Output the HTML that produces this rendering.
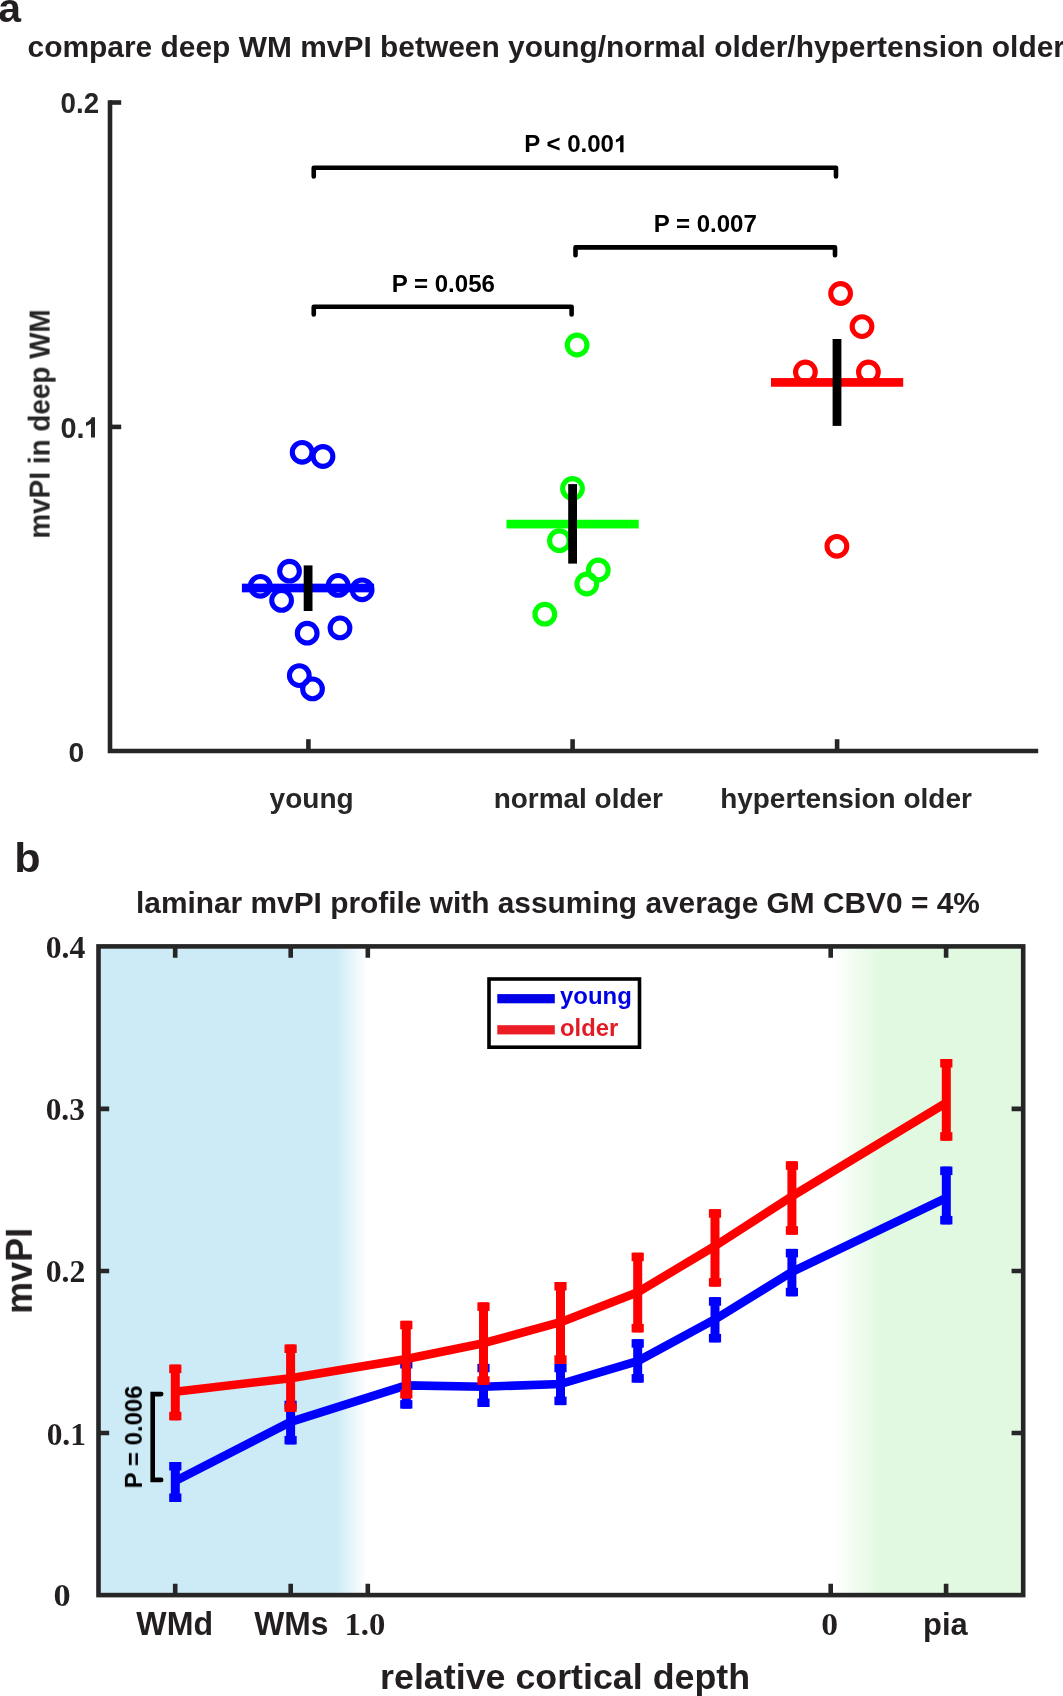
<!DOCTYPE html>
<html><head><meta charset="utf-8"><title>mvPI figure</title>
<style>html,body{margin:0;padding:0;background:#fff;width:1063px;height:1696px;overflow:hidden}svg{display:block}</style>
</head><body>
<svg width="1063" height="1696" viewBox="0 0 1063 1696">
<rect width="1063" height="1696" fill="#fff"/>
<g stroke="#262626" stroke-width="4.6" fill="none" stroke-linecap="butt">
<path d="M110,100.2 V753.2 M107.7,751 H1038.2"/>
<path d="M110,102.5 H121.2"/>
<path d="M110,426.9 H121.2"/>
<path d="M308.4,739.2 V751"/>
<path d="M572.6,739.2 V751"/>
<path d="M837.1,739.2 V751"/>
</g>
<g fill="none" stroke="#0000ff" stroke-width="5.1">
<circle cx="302.15" cy="452.3" r="9.85"/>
<circle cx="323.0" cy="456.5" r="9.85"/>
<circle cx="289.5" cy="571.2" r="9.85"/>
<circle cx="260.3" cy="586.3" r="9.85"/>
<circle cx="281.6" cy="600.4" r="9.85"/>
<circle cx="338.2" cy="585.4" r="9.85"/>
<circle cx="362.1" cy="589.8" r="9.85"/>
<circle cx="307.2" cy="633.2" r="9.85"/>
<circle cx="340" cy="627.9" r="9.85"/>
<circle cx="299.3" cy="675.6" r="9.85"/>
<circle cx="312.5" cy="688.9" r="9.85"/>
</g>
<g fill="none" stroke="#00ff00" stroke-width="5.1">
<circle cx="577.1" cy="345.0" r="9.85"/>
<circle cx="572.5" cy="488.5" r="9.85"/>
<circle cx="559.4" cy="540.7" r="9.85"/>
<circle cx="598.3" cy="570.0" r="9.85"/>
<circle cx="586.8" cy="584.0" r="9.85"/>
<circle cx="544.8" cy="614.2" r="9.85"/>
</g>
<g fill="none" stroke="#ff0000" stroke-width="5.1">
<circle cx="840.6" cy="293.5" r="9.85"/>
<circle cx="862.0" cy="326.6" r="9.85"/>
<circle cx="805.4" cy="372.0" r="9.85"/>
<circle cx="868.4" cy="372.0" r="9.85"/>
<circle cx="836.9" cy="546.3" r="9.85"/>
</g>
<rect x="241.9" y="583.65" width="132.2" height="8.7" fill="#0000ff"/>
<rect x="506.5" y="519.75" width="132.2" height="8.7" fill="#00ff00"/>
<rect x="771.0" y="378.05" width="132.2" height="8.7" fill="#ff0000"/>
<rect x="303.7" y="565.4" width="8.8" height="45.6" fill="#000"/>
<rect x="568.2" y="484.1" width="8.8" height="79.5" fill="#000"/>
<rect x="832.6" y="339.0" width="8.8" height="86.9" fill="#000"/>
<g stroke="#000" stroke-width="4.6" fill="none" stroke-linejoin="round" stroke-linecap="round">
<path d="M313.75,176.4 V167.7 H836 V176.4"/>
<path d="M575.5,255.3 V247.4 H835 V255.3"/>
<path d="M313.75,314.4 V306.8 H571.6 V314.4"/>
</g>
<path d="M95.0,417.3 L95.0,437.6 L91.0,437.6 L91.0,423.7 Q88.6,425.2 86.0,425.9 L86.0,422.5 Q88.6,421.6 90.3,419.6 Q91.2,418.5 91.6,417.3 Z" fill="#262626"/>
<path d="M623.50,135.20 L623.50,152.30 L620.13,152.30 L620.13,140.59 Q618.13,141.86 615.91,142.47 L615.91,139.59 Q618.13,138.84 619.52,137.15 Q620.30,136.22 620.62,135.20 Z" fill="#000"/>
<defs><linearGradient id="gb" gradientUnits="userSpaceOnUse" x1="98.5" x2="367" y1="0" y2="0"><stop offset="0" stop-color="#cdebf6"/><stop offset="0.8860" stop-color="#cdebf6"/><stop offset="1" stop-color="#ffffff"/></linearGradient><linearGradient id="gg" gradientUnits="userSpaceOnUse" x1="832" x2="1023.2" y1="0" y2="0"><stop offset="0" stop-color="#ffffff"/><stop offset="0.2667" stop-color="#e0f9e0"/><stop offset="1" stop-color="#e0f9e0"/></linearGradient></defs>
<rect x="98.5" y="946.4" width="268.5" height="648.7" fill="url(#gb)"/>
<rect x="832" y="946.4" width="191.2" height="648.7" fill="url(#gg)"/>
<g fill="#0000ff">
<rect x="170.8" y="1462.0" width="9" height="40.0"/>
<rect x="169.2" y="1462.0" width="12.2" height="8.5"/>
<rect x="169.2" y="1493.5" width="12.2" height="8.5"/>
<rect x="286.1" y="1400.7" width="9" height="43.7"/>
<rect x="284.5" y="1400.7" width="12.2" height="8.5"/>
<rect x="284.5" y="1435.9" width="12.2" height="8.5"/>
<rect x="401.8" y="1360.0" width="9" height="48.6"/>
<rect x="400.2" y="1360.0" width="12.2" height="8.5"/>
<rect x="400.2" y="1400.1" width="12.2" height="8.5"/>
<rect x="479.0" y="1363.8" width="9" height="43.2"/>
<rect x="477.4" y="1363.8" width="12.2" height="8.5"/>
<rect x="477.4" y="1398.5" width="12.2" height="8.5"/>
<rect x="556.0" y="1363.8" width="9" height="41.3"/>
<rect x="554.4" y="1363.8" width="12.2" height="8.5"/>
<rect x="554.4" y="1396.6" width="12.2" height="8.5"/>
<rect x="633.2" y="1339.2" width="9" height="43.4"/>
<rect x="631.6" y="1339.2" width="12.2" height="8.5"/>
<rect x="631.6" y="1374.1" width="12.2" height="8.5"/>
<rect x="710.5" y="1297.2" width="9" height="45.2"/>
<rect x="708.9" y="1297.2" width="12.2" height="8.5"/>
<rect x="708.9" y="1333.9" width="12.2" height="8.5"/>
<rect x="787.4" y="1248.9" width="9" height="47.4"/>
<rect x="785.8" y="1248.9" width="12.2" height="8.5"/>
<rect x="785.8" y="1287.8" width="12.2" height="8.5"/>
<rect x="941.8" y="1166.6" width="9" height="57.8"/>
<rect x="940.2" y="1166.6" width="12.2" height="8.5"/>
<rect x="940.2" y="1215.9" width="12.2" height="8.5"/>
</g>
<polyline points="175.3,1481.0 290.6,1421.8 406.3,1385.4 483.5,1386.7 560.5,1384.0 637.7,1361.1 715.0,1319.3 791.9,1271.9 946.3,1197.9" fill="none" stroke="#0000ff" stroke-width="8.6" stroke-linejoin="round" stroke-linecap="butt"/>
<g fill="#ff0000">
<rect x="170.8" y="1364.6" width="9" height="55.7"/>
<rect x="169.2" y="1364.6" width="12.2" height="8.5"/>
<rect x="169.2" y="1411.8" width="12.2" height="8.5"/>
<rect x="286.1" y="1344.5" width="9" height="67.4"/>
<rect x="284.5" y="1344.5" width="12.2" height="8.5"/>
<rect x="284.5" y="1403.4" width="12.2" height="8.5"/>
<rect x="401.8" y="1320.8" width="9" height="77.7"/>
<rect x="400.2" y="1320.8" width="12.2" height="8.5"/>
<rect x="400.2" y="1390.0" width="12.2" height="8.5"/>
<rect x="479.0" y="1302.4" width="9" height="82.4"/>
<rect x="477.4" y="1302.4" width="12.2" height="8.5"/>
<rect x="477.4" y="1376.3" width="12.2" height="8.5"/>
<rect x="556.0" y="1282.0" width="9" height="81.8"/>
<rect x="554.4" y="1282.0" width="12.2" height="8.5"/>
<rect x="554.4" y="1355.3" width="12.2" height="8.5"/>
<rect x="633.2" y="1252.7" width="9" height="79.7"/>
<rect x="631.6" y="1252.7" width="12.2" height="8.5"/>
<rect x="631.6" y="1323.9" width="12.2" height="8.5"/>
<rect x="710.5" y="1209.2" width="9" height="77.4"/>
<rect x="708.9" y="1209.2" width="12.2" height="8.5"/>
<rect x="708.9" y="1278.1" width="12.2" height="8.5"/>
<rect x="787.4" y="1161.3" width="9" height="73.4"/>
<rect x="785.8" y="1161.3" width="12.2" height="8.5"/>
<rect x="785.8" y="1226.2" width="12.2" height="8.5"/>
<rect x="941.8" y="1059.0" width="9" height="81.7"/>
<rect x="940.2" y="1059.0" width="12.2" height="8.5"/>
<rect x="940.2" y="1132.2" width="12.2" height="8.5"/>
</g>
<polyline points="175.3,1391.7 290.6,1378.2 406.3,1359.0 483.5,1343.2 560.5,1322.2 637.7,1292.2 715.0,1246.0 791.9,1196.3 946.3,1102.7" fill="none" stroke="#ff0000" stroke-width="8.6" stroke-linejoin="round" stroke-linecap="butt"/>
<path d="M161.2,1394.1 H152.7 V1479.9 H161.2" fill="none" stroke="#000" stroke-width="4.6" stroke-linecap="round"/>
<g stroke="#262626" stroke-width="4.6" fill="none">
<rect x="98.5" y="946.4" width="924.7" height="648.7"/>
<path d="M98.5,1108.9 H109.2 M1023.2,1108.9 H1011.6"/>
<path d="M98.5,1271.0 H109.2 M1023.2,1271.0 H1011.6"/>
<path d="M98.5,1433.0 H109.2 M1023.2,1433.0 H1011.6"/>
<path d="M175.2,1595.1 V1583.8 M175.2,946.4 V957.8"/>
<path d="M290.7,1595.1 V1583.8 M290.7,946.4 V957.8"/>
<path d="M367.8,1595.1 V1583.8 M367.8,946.4 V957.8"/>
<path d="M830.7,1595.1 V1583.8 M830.7,946.4 V957.8"/>
<path d="M946.1,1595.1 V1583.8 M946.1,946.4 V957.8"/>
</g>
<rect x="489" y="979" width="150.5" height="68.2" fill="#fff" stroke="#000" stroke-width="3.6"/>
<rect x="497.3" y="994.1" width="57.5" height="9.2" fill="#0000e6"/>
<rect x="497.3" y="1025.2" width="57.5" height="9.2" fill="#ec1c24"/>
<g style="will-change:transform">
<text transform="translate(-1.70,21.80) scale(1.0000,1)" font-family="Liberation Sans" font-weight="bold" font-size="40.90" fill="#231f20">a</text>
<text transform="translate(27.50,57.00) scale(1.0000,1)" font-family="Liberation Sans" font-weight="bold" font-size="29.93" fill="#231f20">compare deep WM mvPI between young/normal older/hypertension older</text>
<text transform="translate(60.59,113.40) scale(0.9650,1)" font-family="Liberation Sans" font-weight="bold" font-size="28.71" fill="#262626">0.2</text>
<text transform="translate(60.45,437.50) scale(1.0000,1)" font-family="Liberation Sans" font-weight="bold" font-size="28.86" fill="#262626">0.</text>
<text transform="translate(68.57,761.90) scale(1.0024,1)" font-family="Liberation Sans" font-weight="bold" font-size="28.14" fill="#262626">0</text>
<text transform="translate(269.62,808.40) scale(1.0291,1)" font-family="Liberation Sans" font-weight="bold" font-size="27.22" fill="#262626">young</text>
<text transform="translate(493.68,808.40) scale(1.0292,1)" font-family="Liberation Sans" font-weight="bold" font-size="27.17" fill="#262626">normal older</text>
<text transform="translate(720.14,808.40) scale(1.0295,1)" font-family="Liberation Sans" font-weight="bold" font-size="27.17" fill="#262626">hypertension older</text>
<text transform="translate(49.60,538.61) rotate(-90) scale(0.9673,1)" font-family="Liberation Sans" font-weight="bold" font-size="28.83" fill="#262626">mvPI in deep WM</text>
<text transform="translate(524.14,152.30) scale(0.9856,1)" font-family="Liberation Sans" font-weight="bold" font-size="24.40" fill="#000">P &lt; 0.00</text>
<text transform="translate(653.64,231.70) scale(0.9864,1)" font-family="Liberation Sans" font-weight="bold" font-size="24.40" fill="#000">P = 0.007</text>
<text transform="translate(391.63,291.70) scale(0.9869,1)" font-family="Liberation Sans" font-weight="bold" font-size="24.40" fill="#000">P = 0.056</text>
<text transform="translate(14.34,872.10) scale(1.0564,1)" font-family="Liberation Sans" font-weight="bold" font-size="40.90" fill="#231f20">b</text>
<text transform="translate(136.01,913.10) scale(1.0117,1)" font-family="Liberation Sans" font-weight="bold" font-size="29.52" fill="#231f20">laminar mvPI profile with assuming average GM CBV0 = 4%</text>
<text transform="translate(45.73,957.60) scale(0.9891,1)" font-family="Liberation Serif" font-weight="bold" font-size="32.03" fill="#231f20">0.4</text>
<text transform="translate(45.64,1120.00) scale(0.9851,1)" font-family="Liberation Serif" font-weight="bold" font-size="31.88" fill="#231f20">0.3</text>
<text transform="translate(45.73,1282.10) scale(0.9962,1)" font-family="Liberation Serif" font-weight="bold" font-size="31.88" fill="#231f20">0.2</text>
<text transform="translate(46.64,1444.60) scale(0.9778,1)" font-family="Liberation Serif" font-weight="bold" font-size="32.18" fill="#231f20">0.1</text>
<text transform="translate(53.43,1606.00) scale(1.1122,1)" font-family="Liberation Serif" font-weight="bold" font-size="30.83" fill="#231f20">0</text>
<text transform="translate(136.35,1634.80) scale(0.9812,1)" font-family="Liberation Sans" font-weight="bold" font-size="32.75" fill="#231f20">WMd</text>
<text transform="translate(254.20,1634.80) scale(0.9714,1)" font-family="Liberation Sans" font-weight="bold" font-size="32.75" fill="#231f20">WMs</text>
<text transform="translate(344.38,1634.80) scale(1.0128,1)" font-family="Liberation Serif" font-weight="bold" font-size="32.33" fill="#231f20">1.0</text>
<text transform="translate(821.36,1634.80) scale(1.0384,1)" font-family="Liberation Serif" font-weight="bold" font-size="32.33" fill="#231f20">0</text>
<text transform="translate(923.09,1634.70) scale(0.9687,1)" font-family="Liberation Sans" font-weight="bold" font-size="31.90" fill="#231f20">pia</text>
<text transform="translate(380.07,1688.80) scale(1.0224,1)" font-family="Liberation Sans" font-weight="bold" font-size="35.03" fill="#231f20">relative cortical depth</text>
<text transform="translate(31.80,1313.84) rotate(-90) scale(0.9811,1)" font-family="Liberation Sans" font-weight="bold" font-size="36.67" fill="#231f20">mvPI</text>
<text transform="translate(560.06,1004.10) scale(1.0143,1)" font-family="Liberation Sans" font-weight="bold" font-size="23.60" fill="#0000e6">young</text>
<text transform="translate(560.05,1035.60) scale(1.0070,1)" font-family="Liberation Sans" font-weight="bold" font-size="23.60" fill="#e31b23">older</text>
<text transform="translate(141.90,1488.36) rotate(-90) scale(0.9830,1)" font-family="Liberation Sans" font-weight="bold" font-size="24.40" fill="#000">P = 0.006</text>
</g>
</svg>
</body></html>
